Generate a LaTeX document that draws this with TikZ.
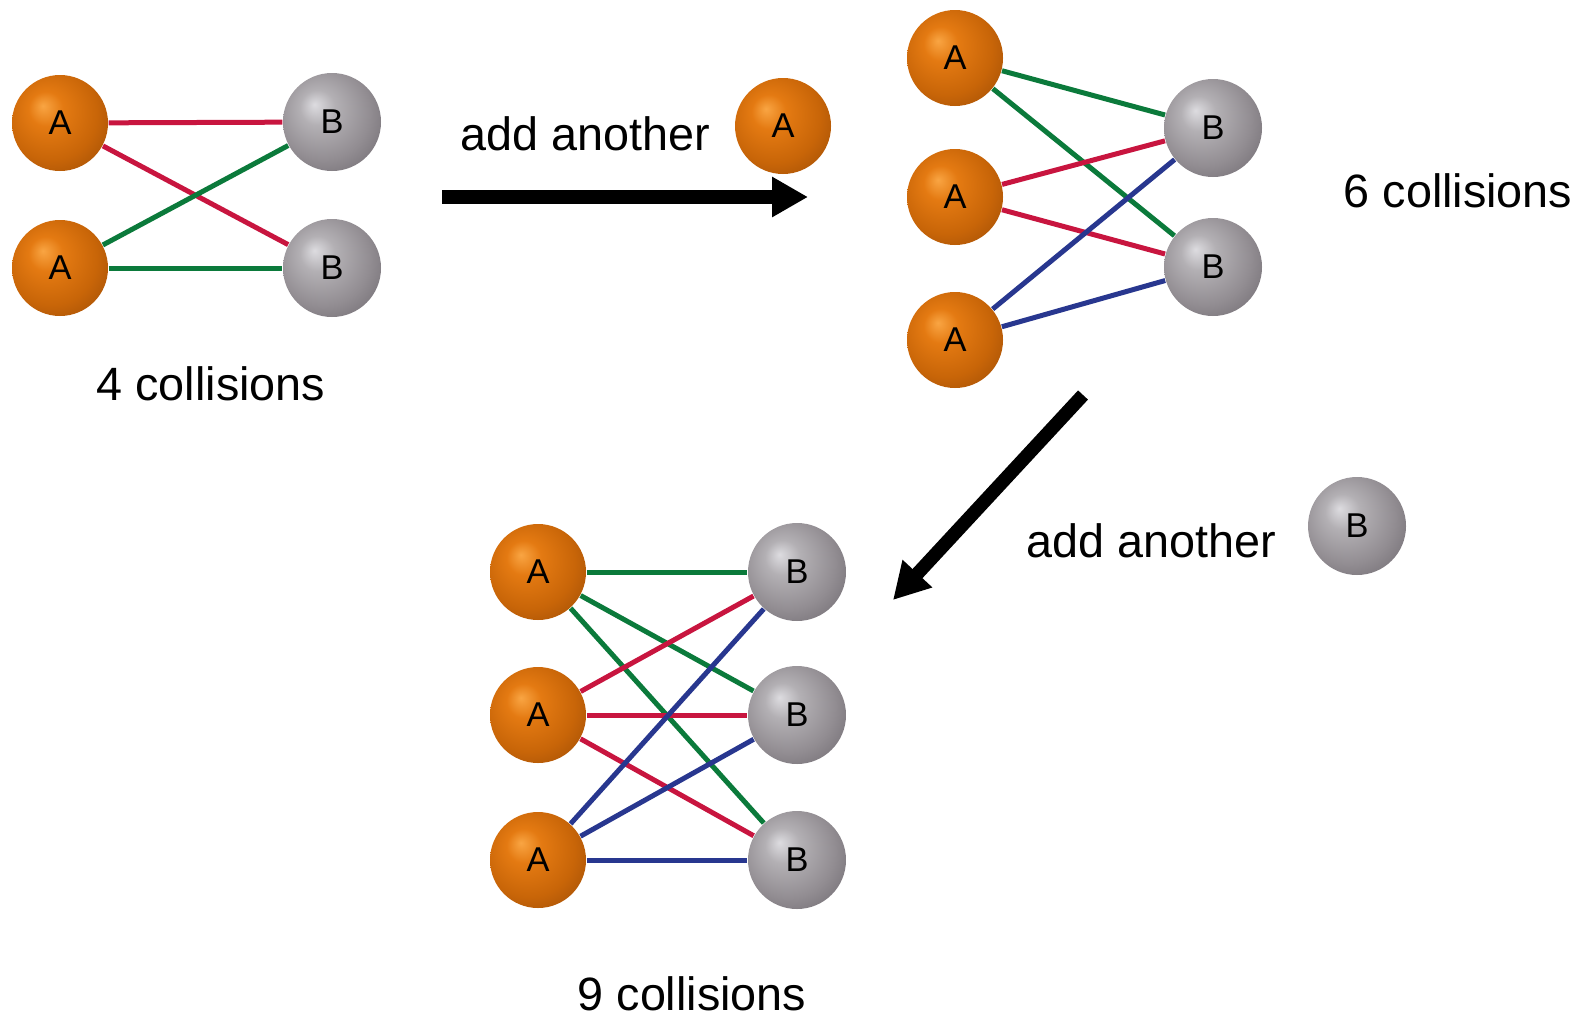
\documentclass[tikz,border=0pt]{standalone}
\usepackage{fontspec}
\setmainfont{Liberation Sans}
\usetikzlibrary{arrows.meta}

\definecolor{orangehi}{HTML}{F9A543}
\definecolor{orangemid}{HTML}{E47A12}
\definecolor{orangelo}{HTML}{C86508}
\definecolor{orangedeep}{HTML}{A04E06}
\definecolor{grayhi}{HTML}{DDDCE0}
\definecolor{graymid}{HTML}{B3B0B4}
\definecolor{graylo}{HTML}{928D92}
\definecolor{graydeep}{HTML}{6F6A70}
\definecolor{hitred}{HTML}{C8153F}
\definecolor{hitgreen}{HTML}{0B7A3B}
\definecolor{hitblue}{HTML}{28378F}

\pgfdeclareradialshading{orangeshade}{\pgfpoint{-9bp}{9bp}}{color(0bp)=(orangehi); color(9bp)=(orangemid); color(24bp)=(orangelo); color(37bp)=(orangedeep); color(50bp)=(orangedeep)}
\pgfdeclareradialshading{grayshade}{\pgfpoint{-9bp}{9bp}}{color(0bp)=(grayhi); color(9bp)=(graymid); color(24bp)=(graylo); color(37bp)=(graydeep); color(50bp)=(graydeep)}

\tikzset{
  ballA/.style={circle, minimum size=9.6mm, inner sep=0pt, shading=orangeshade, font=\fontsize{9.8pt}{11pt}\selectfont},
  ballB/.style={circle, minimum size=9.8mm, inner sep=0pt, shading=grayshade, font=\fontsize{9.8pt}{11pt}\selectfont},
  hit/.style={line width=0.5mm},
  caption/.style={anchor=base, inner sep=0pt, font=\fontsize{13.3pt}{15pt}\selectfont},
  bigarrow/.style={line width=1.35mm, -{Triangle[length=3.6mm,width=3.8mm]}}
}

\begin{document}
\begin{tikzpicture}[x=0.1mm,y=-0.1mm]
       \useasboundingbox (0,0) rectangle (1581,1015);
       % two A, two B
       \node[ballA] (lA1) at (60,123) {A};
       \node[ballA] (lA2) at (60,268) {A};
       \node[ballB] (lB1) at (332,122) {B};
       \node[ballB] (lB2) at (332,268) {B};
       \draw[hit,hitred] (lA1) -- (lB1);
       \draw[hit,hitred] (lA1) -- (lB2);
       \draw[hit,hitgreen] (lA2) -- (lB1);
       \draw[hit,hitgreen] (lA2) -- (lB2);
       \node[caption] (cap4) at (211,400) {4 collisions};

       % first step
       \coordinate (arr1s) at (442,197);
       \coordinate (arr1e) at (808,197);
       \draw[bigarrow] (arr1s) -- (arr1e);
       \node[caption] (add1) at (585,150) {add another};
       \node[ballA] (newA) at (783,126) {A};

       % three A, two B
       \node[ballA] (rA1) at (955,58) {A};
       \node[ballA] (rA2) at (955,197) {A};
       \node[ballA] (rA3) at (955,340) {A};
       \node[ballB] (rB1) at (1213,128) {B};
       \node[ballB] (rB2) at (1213,267) {B};
       \draw[hit,hitgreen] (rA1) -- (rB1);
       \draw[hit,hitgreen] (rA1) -- (rB2);
       \draw[hit,hitred] (rA2) -- (rB1);
       \draw[hit,hitred] (rA2) -- (rB2);
       \draw[hit,hitblue] (rA3) -- (rB1);
       \draw[hit,hitblue] (rA3) -- (rB2);
       \node[caption] (cap6) at (1458,207) {6 collisions};

       % second step
       \coordinate (arr2s) at (1083,395);
       \coordinate (arr2e) at (893,600);
       \draw[bigarrow] (arr2s) -- (arr2e);
       \node[caption] (add2) at (1151,557) {add another};
       \node[ballB] (newB) at (1357,526) {B};

       % three A, three B
       \node[ballA] (bA1) at (538,572) {A};
       \node[ballA] (bA2) at (538,715) {A};
       \node[ballA] (bA3) at (538,860) {A};
       \node[ballB] (bB1) at (797,572) {B};
       \node[ballB] (bB2) at (797,715) {B};
       \node[ballB] (bB3) at (797,860) {B};
       \draw[hit,hitgreen] (bA1) -- (bB1);
       \draw[hit,hitgreen] (bA1) -- (bB2);
       \draw[hit,hitgreen] (bA1) -- (bB3);
       \draw[hit,hitred] (bA2) -- (bB1);
       \draw[hit,hitred] (bA2) -- (bB2);
       \draw[hit,hitred] (bA2) -- (bB3);
       \draw[hit,hitblue] (bA3) -- (bB1);
       \draw[hit,hitblue] (bA3) -- (bB2);
       \draw[hit,hitblue] (bA3) -- (bB3);
       \node[caption] (cap9) at (692,1010) {9 collisions};
\end{tikzpicture}
\end{document}
